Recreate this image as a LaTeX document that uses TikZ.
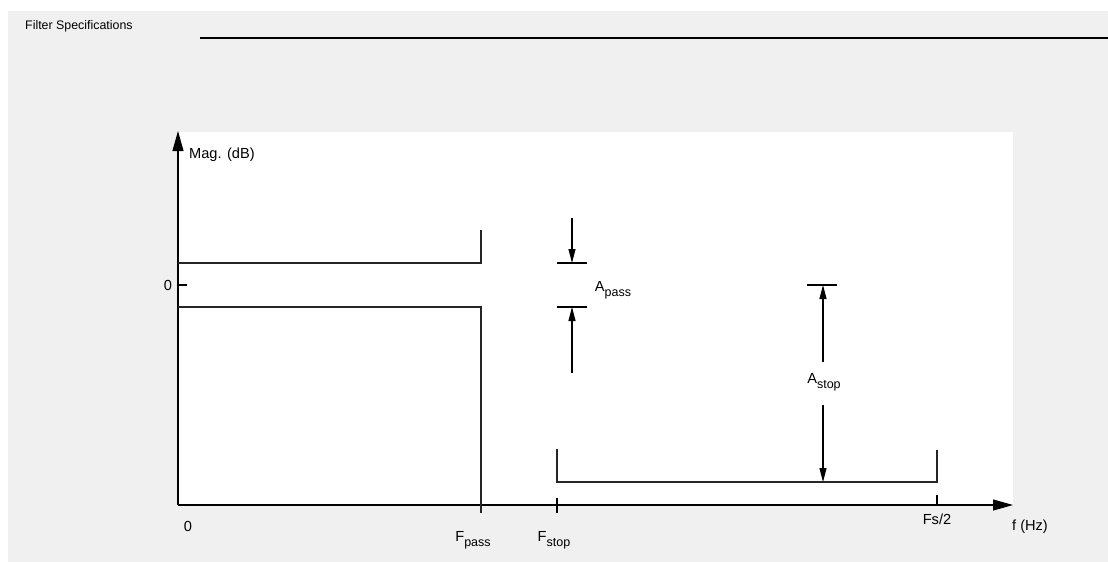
\documentclass[tikz,border=0pt]{standalone}
\usepackage{fontspec}
\setmainfont{Liberation Sans}
\usetikzlibrary{arrows.meta}
\definecolor{panelgray}{HTML}{F0F0F0}
\newcommand{\lowsub}[1]{\raisebox{-5pt}{\fontsize{12.5}{12.5}\selectfont #1}}

\tikzset{
  lbl/.style={font=\fontsize{14.6}{16}\selectfont, inner sep=0pt},
  axisarrow/.style={-{Triangle[length=20pt,width=11pt]}, line width=1.1pt},
  dimarrow/.style={-{Triangle[length=14pt,width=7pt]}, line width=1.1pt},
  spec/.style={line width=1.1pt, black!85}
}

\begin{document}
\begin{tikzpicture}[x=1pt,y=-1pt]
\useasboundingbox (0,0) rectangle (1108,562);
% Panel and plot area
\fill[panelgray] (8,11) rectangle (1108,562);
\fill[white] (178,132) rectangle (1013,505);
% Title with rule
\node[font=\fontsize{12.4}{14}\selectfont, anchor=west, inner sep=0pt] (title) at (25,26) {Filter Specifications};
\coordinate (ruleL) at (200,38);
\coordinate (ruleR) at (1108,38);
\draw[line width=1.3pt] (ruleL) -- (ruleR);
% Axes
\coordinate (origin) at (178,505);
\coordinate (ytop) at (178,131);
\coordinate (xend) at (1013,505);
\draw[axisarrow] (origin) -- (ytop);
\draw[axisarrow] (origin) -- (xend);
\node[lbl, anchor=west] (maglbl) at (189,155) {Mag. (dB)};
\node[lbl] (freqlbl) at (1030,527) {f (Hz)};
% Zero level tick
\coordinate (zero) at (178,285);
\coordinate (zerotick) at (187,285);
\draw[line width=1.1pt] (zero) -- (zerotick);
\node[lbl] (zerolbl) at (168,285) {0};
\node[lbl] (origlbl) at (188,526) {0};
% Passband mask
\coordinate (passTop) at (481,230);
\coordinate (passHi) at (481,263);
\coordinate (passLo) at (481,307);
\coordinate (passBot) at (481,513);
\draw[spec] (178,263) -- (passHi) -- (passTop);
\draw[spec] (178,307) -- (passLo) -- (passBot);
% Stopband mask
\coordinate (stopL) at (557,482);
\coordinate (stopR) at (937,482);
\draw[spec] (557,449) -- (stopL) -- (stopR) -- (937,450);
% Frequency ticks
\foreach \fx/\ya/\yb in {557/498/513, 937/495/505}
  \draw[line width=1.1pt] (\fx,\ya) -- (\fx,\yb);
\node[lbl] (fpass) at (473,540) {F\lowsub{pass}};
\node[lbl] (fstop) at (554,540) {F\lowsub{stop}};
\node[lbl] (fhalf) at (937,519) {Fs/2};
% Passband ripple
\coordinate (apHi) at (572,263);
\coordinate (apLo) at (572,307);
\coordinate (apTop) at (572,218);
\coordinate (apBot) at (572,373);
\foreach \y in {263,307}
  \draw[line width=1.1pt] (557,\y) -- (587,\y);
\draw[dimarrow] (apTop) -- (apHi);
\draw[dimarrow] (apBot) -- (apLo);
\node[lbl] (apass) at (613,290) {A\lowsub{pass}};
% Stopband attenuation
\coordinate (asHi) at (823,285);
\coordinate (asLo) at (823,482);
\draw[line width=1.1pt] (807,285) -- (837,285);
\node[lbl] (astop) at (824,382) {A\lowsub{stop}};
\draw[dimarrow] (823,362) -- (asHi);
\draw[dimarrow] (823,405) -- (asLo);
\end{tikzpicture}
\end{document}
